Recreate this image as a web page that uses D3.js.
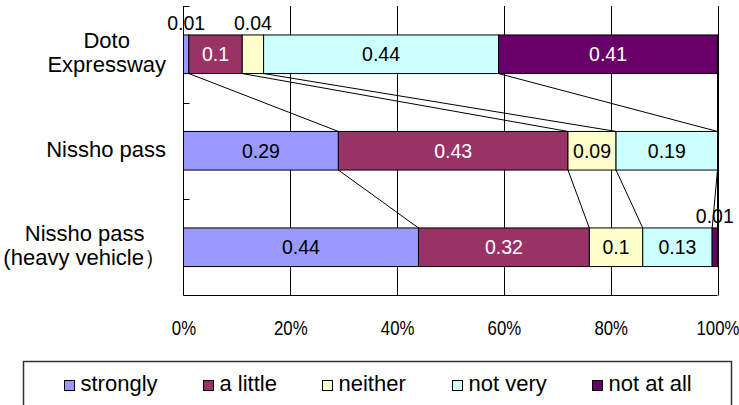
<!DOCTYPE html>
<html>
<head>
<meta charset="utf-8">
<script src="https://cdn.jsdelivr.net/npm/d3@7"></script>
<style>
  body { margin: 0; background: #fff; }
  svg { display: block; }
  text { font-family: "Liberation Sans", Arial, sans-serif; }
</style>
</head>
<body>
<svg id="chart" width="739" height="405"></svg>
<script>
// Survey answers per route (shares of respondents)
const categories = ["Doto\nExpressway", "Nissho pass", "Nissho pass\n(heavy vehicle）"];
const seriesNames = ["strongly", "a little", "neither", "not very", "not at all"];
const strongly = [0.01, 0.29, 0.44];
const aLittle  = [0.10, 0.43, 0.32];
const neither  = [0.04, 0.09, 0.10];
const notVery  = [0.44, 0.19, 0.13];
const notAtAll = [0.41, 0.00, 0.01];
const xTickValues = [0, 0.2, 0.4, 0.6, 0.8, 1];

const seriesValues = [strongly, aLittle, neither, notVery, notAtAll];
const seriesColors = ["#9999FF", "#993366", "#FFFFCC", "#CCFFFF", "#660066"];
const labelColors  = ["#000", "#fff", "#000", "#000", "#fff"];

const svg = d3.select("#chart");
const plot = { left: 183.5, right: 717.5, top: 6, bottom: 295.5 };

const x = d3.scaleLinear().domain([0, 1]).range([plot.left, plot.right]);
const y = d3.scaleBand().domain(d3.range(categories.length)).range([plot.top, plot.bottom]).padding(0);
const barH = y.bandwidth() * 0.4;
const barTop = i => y(i) + (y.bandwidth() - barH) / 2;

// Stack the series into segments per category
const rows = categories.map((c, i) => {
  let acc = 0;
  return seriesValues.map((vals, s) => {
    const v = vals[i];
    const seg = { cat: i, s, v, x0: acc, x1: acc + v };
    acc += v;
    return seg;
  });
});

// Vertical gridlines
svg.append("g").selectAll("line")
  .data(xTickValues.filter(d => d > 0))
  .join("line")
  .attr("x1", d => Math.round(x(d)) + 0.5).attr("x2", d => Math.round(x(d)) + 0.5)
  .attr("y1", plot.top).attr("y2", plot.bottom)
  .attr("stroke", "#000").attr("stroke-width", 1);

// Series lines joining segment boundaries of neighbouring bars
const connectors = [];
for (let i = 0; i < categories.length - 1; i++) {
  rows[i].forEach((seg, k) => {
    connectors.push({
      xa: x(seg.x1), ya: barTop(i) + barH,
      xb: x(rows[i + 1][k].x1), yb: barTop(i + 1)
    });
  });
}
svg.append("g").selectAll("line")
  .data(connectors)
  .join("line")
  .attr("x1", d => d.xa).attr("y1", d => d.ya)
  .attr("x2", d => d.xb).attr("y2", d => d.yb)
  .attr("stroke", "#000").attr("stroke-width", 1);

// Bars
svg.append("g").selectAll("rect")
  .data(rows.flat().filter(d => d.v > 0))
  .join("rect")
  .attr("x", d => x(d.x0))
  .attr("y", d => barTop(d.cat))
  .attr("width", d => x(d.x1) - x(d.x0))
  .attr("height", barH)
  .attr("fill", d => seriesColors[d.s])
  .attr("stroke", "#000").attr("stroke-width", 1);

// Axis lines
svg.append("line")
  .attr("x1", plot.left).attr("x2", plot.left)
  .attr("y1", plot.top).attr("y2", plot.bottom)
  .attr("stroke", "#000");
svg.append("line")
  .attr("x1", plot.left).attr("x2", plot.right)
  .attr("y1", plot.bottom).attr("y2", plot.bottom)
  .attr("stroke", "#000");

// Category boundary ticks on the vertical axis (pointing inward)
const bounds = categories.map((c, i) => y(i));
svg.append("g").selectAll("line")
  .data(bounds)
  .join("line")
  .attr("x1", plot.left).attr("x2", plot.left + 6)
  .attr("y1", d => Math.round(d) + 0.5).attr("y2", d => Math.round(d) + 0.5)
  .attr("stroke", "#000");

// Percent axis (narrow lettering)
const xAxis = svg.append("g")
  .attr("transform", `translate(0,${plot.bottom})`)
  .call(d3.axisBottom(x).tickValues(xTickValues).tickFormat(d3.format(".0%")).tickSize(0).tickPadding(25));
xAxis.select(".domain").remove();
xAxis.selectAll("text")
  .attr("fill", "#000")
  .attr("transform", "scale(0.8,1)")
  .style("font-size", "21px");

// Data labels
const labels = svg.append("g");
rows.flat().filter(d => d.v > 0).forEach(d => {
  const cx = x((d.x0 + d.x1) / 2);
  const small = d.v < 0.05;
  labels.append("text")
    .attr("x", cx)
    .attr("y", small ? barTop(d.cat) - 5 : barTop(d.cat) + barH / 2)
    .attr("dy", small ? 0 : "0.36em")
    .attr("text-anchor", "middle")
    .attr("fill", small ? "#000" : labelColors[d.s])
    .style("font-size", "19.5px")
    .text(d.v);
});

// Category labels, centred as a block just left of the axis
const catG = svg.append("g");
categories.forEach((c, i) => {
  const lines = c.split("\n");
  const cy = y(i) + y.bandwidth() / 2;
  const lh = 24;
  const texts = lines.map((ln, j) => catG.append("text")
    .attr("y", cy + 6 - (lines.length - 1) * lh / 2 + j * lh)
    .style("font-size", "22px")
    .attr("text-anchor", "middle")
    .attr("fill", "#000")
    .text(ln));
  const w = d3.max(texts, t => t.node().getComputedTextLength());
  const right = 166;
  texts.forEach(t => t.attr("x", right - w / 2));
});

// Legend
const legend = svg.append("g");
legend.append("rect")
  .attr("x", 23.5).attr("y", 361.5).attr("width", 708).attr("height", 70)
  .attr("fill", "#fff").attr("stroke", "#333").attr("stroke-width", 1.5);
const items = seriesNames.map((name, s) => {
  const g = legend.append("g");
  g.append("rect").attr("x", 0).attr("y", -10.5).attr("width", 10).attr("height", 10)
    .attr("fill", seriesColors[s]).attr("stroke", "#000").attr("stroke-width", 1);
  const t = g.append("text").attr("x", 16).attr("y", 0).style("font-size", "22px").attr("fill", "#000").text(name);
  return { g, w: 16 + t.node().getComputedTextLength() };
});
const gap = 46;
const total = d3.sum(items, d => d.w) + gap * (items.length - 1);
let lx = 23.5 + (708 - total) / 2;
items.forEach(it => {
  it.g.attr("transform", `translate(${Math.round(lx) + 0.5},391)`);
  lx += it.w + gap;
});
</script>
</body>
</html>
